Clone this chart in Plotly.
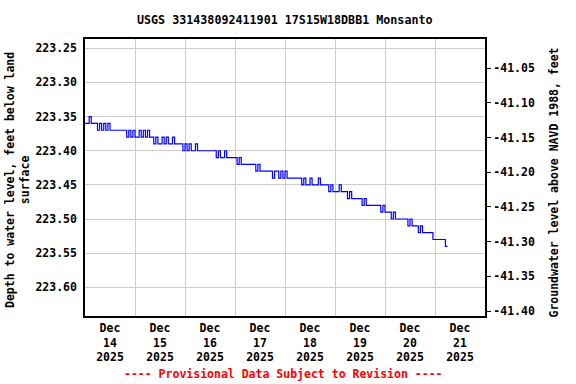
import plotly.graph_objects as go
from datetime import datetime, timedelta

# ---- data ----
start = datetime(2025, 12, 14, 0, 0)
hours = list(range(0, 175))
depth = [
    223.36, 223.36, 223.35, 223.36, 223.36, 223.36, 223.37, 223.36, 223.37, 223.36,
    223.37, 223.36, 223.37, 223.37, 223.37, 223.37, 223.37, 223.37, 223.37, 223.37,
    223.38, 223.37, 223.38, 223.37, 223.38, 223.38, 223.37, 223.38, 223.37, 223.38,
    223.37, 223.38, 223.38, 223.39, 223.38, 223.39, 223.39, 223.38, 223.39, 223.38,
    223.39, 223.39, 223.38, 223.39, 223.39, 223.39, 223.39, 223.40, 223.39, 223.40,
    223.39, 223.40, 223.40, 223.39, 223.40, 223.40, 223.40, 223.40, 223.40, 223.40,
    223.40, 223.40, 223.40, 223.41, 223.40, 223.41, 223.41, 223.40, 223.41, 223.41,
    223.41, 223.41, 223.41, 223.42, 223.41, 223.42, 223.42, 223.42, 223.42, 223.42,
    223.42, 223.42, 223.43, 223.42, 223.43, 223.43, 223.43, 223.43, 223.43, 223.43,
    223.44, 223.43, 223.43, 223.44, 223.43, 223.44, 223.43, 223.44, 223.44, 223.44,
    223.44, 223.44, 223.44, 223.44, 223.45, 223.44, 223.45, 223.45, 223.44, 223.45,
    223.45, 223.45, 223.44, 223.45, 223.45, 223.45, 223.45, 223.46, 223.45, 223.46,
    223.46, 223.46, 223.45, 223.46, 223.46, 223.46, 223.47, 223.46, 223.47, 223.47,
    223.47, 223.47, 223.47, 223.48, 223.47, 223.48, 223.48, 223.48, 223.48, 223.48,
    223.48, 223.48, 223.49, 223.48, 223.49, 223.49, 223.49, 223.50, 223.49, 223.50,
    223.50, 223.50, 223.50, 223.50, 223.50, 223.51, 223.50, 223.51, 223.51, 223.51,
    223.52, 223.51, 223.52, 223.52, 223.52, 223.52, 223.52, 223.53, 223.53, 223.53,
    223.53, 223.53, 223.53, 223.54, 223.54,
]
land_surface_navd88 = 182.23

left_ticks = [223.25, 223.30, 223.35, 223.40, 223.45, 223.50, 223.55, 223.60]
right_ticks = [-41.05, -41.10, -41.15, -41.20, -41.25, -41.30, -41.35, -41.40]
x_label_pos = ["2025-12-14 12:00", "2025-12-15 12:00", "2025-12-16 12:00", "2025-12-17 12:00",
               "2025-12-18 12:00", "2025-12-19 12:00", "2025-12-20 12:00", "2025-12-21 12:00"]
x_tick_text = ["Dec<br>14<br>2025", "Dec<br>15<br>2025", "Dec<br>16<br>2025",
               "Dec<br>17<br>2025", "Dec<br>18<br>2025", "Dec<br>19<br>2025",
               "Dec<br>20<br>2025", "Dec<br>21<br>2025"]
x_grid_pos = ["2025-12-15", "2025-12-16", "2025-12-17", "2025-12-18",
              "2025-12-19", "2025-12-20", "2025-12-21"]

times = [start + timedelta(hours=h) for h in hours]
elev = [land_surface_navd88 - d for d in depth]

FONT = "DejaVu Sans Mono"

fig = go.Figure()
fig.add_trace(go.Scatter(x=times, y=depth, mode="lines", line=dict(color="#0000ff", width=1.2, shape="hv"),
                         showlegend=False, hoverinfo="skip"))
fig.add_trace(go.Scatter(x=times, y=elev, mode="lines", line=dict(color="rgba(0,0,0,0)", width=0),
                         yaxis="y2", showlegend=False, hoverinfo="skip"))

fig.update_layout(
    width=576, height=384,
    margin=dict(l=85, r=91, t=39, b=68),
    paper_bgcolor="white", plot_bgcolor="white",
    font=dict(family=FONT, size=11.5, color="black", weight="bold"),
    xaxis=dict(
        type="date", range=["2025-12-14", "2025-12-22"],
        tickmode="array", tickvals=x_label_pos, ticktext=x_tick_text,
        showgrid=False,
        minor=dict(tickmode="array", tickvals=x_grid_pos, showgrid=True,
                   gridcolor="#cccccc", gridwidth=1, ticks=""),
        showline=True, linecolor="black", linewidth=1.5, mirror=True,
        ticks="", zeroline=False,
        tickfont=dict(family=FONT, size=11.5, weight="bold"),
    ),
    yaxis=dict(
        range=[223.6420, 223.2364],
        tickmode="array", tickvals=left_ticks, ticktext=["%.2f" % v for v in left_ticks],
        showgrid=True, gridcolor="#cccccc", gridwidth=1,
        showline=True, linecolor="black", linewidth=1.5, mirror=True,
        ticks="outside", ticklen=4, tickcolor="rgba(0,0,0,0)", zeroline=False,
        tickfont=dict(family=FONT, size=11.5, weight="bold"),
    ),
    yaxis2=dict(
        overlaying="y", side="right",
        range=[-41.4072, -41.00775],
        tickmode="array", tickvals=right_ticks, ticktext=["%.2f" % v for v in right_ticks],
        showgrid=False, zeroline=False,
        ticks="outside", ticklen=5, tickcolor="black",
        tickfont=dict(family=FONT, size=11.5, weight="bold"),
    ),
    annotations=[
        dict(text="USGS 331438092411901 17S15W18DBB1 Monsanto", xref="paper", yref="paper",
             x=0.5, y=1, yshift=28, showarrow=False,
             font=dict(family=FONT, size=11.7, weight="bold")),
        dict(text="Depth to water level, feet below land<br>surface", xref="paper", yref="paper",
             x=0, xshift=-84, y=0.5, yshift=-3, textangle=-90, showarrow=False,
             font=dict(family=FONT, size=11.5, weight="bold")),
        dict(text="Groundwater level above NAVD 1988, feet", xref="paper", yref="paper",
             x=1, xshift=77, y=0.5, yshift=-5, textangle=-90, showarrow=False,
             font=dict(family=FONT, size=11.5, weight="bold")),
        dict(text="---- Provisional Data Subject to Revision ----", xref="paper", yref="paper",
             x=0.495, y=0, yshift=-67, showarrow=False,
             font=dict(family=FONT, size=11.5, weight="bold", color="#ff0000")),
    ],
)

fig.write_html("out.html", config={"displayModeBar": False},
               post_script="document.body.style.margin='0px';")
